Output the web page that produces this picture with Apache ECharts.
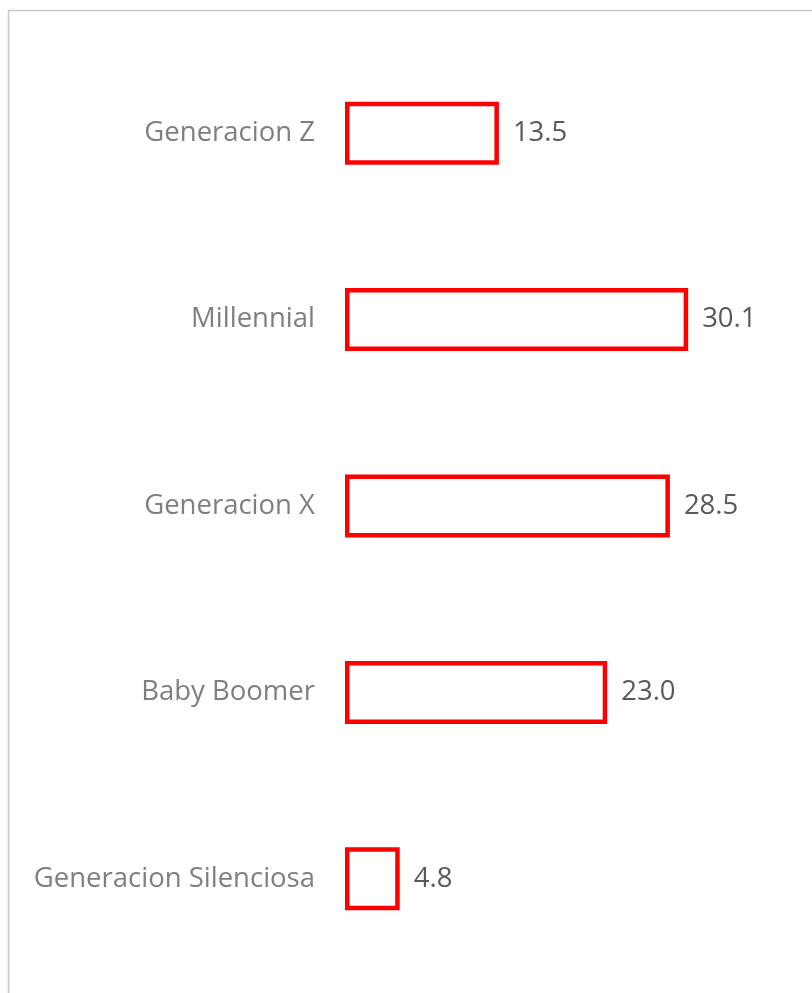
<!DOCTYPE html>
<html>
<head>
<meta charset="utf-8">
<script src="https://cdn.jsdelivr.net/npm/echarts@6/dist/echarts.min.js"></script>
<style>
  html, body { margin: 0; padding: 0; background: #fff; }
  #chart { width: 812px; height: 993px; }
</style>
</head>
<body>
<div id="chart"></div>
<script>
var categories = ['Generacion Z', 'Millennial', 'Generacion X', 'Baby Boomer', 'Generacion Silenciosa'];
var values = [13.5, 30.1, 28.5, 23.0, 4.8];

var chart = echarts.init(document.getElementById('chart'));
var option = {
  backgroundColor: '#fff',
  animation: false,
  graphic: [
    {
      type: 'rect',
      shape: { x: 8.5, y: 10.5, width: 900, height: 1100 },
      style: { fill: 'none', stroke: '#c8c8c8', lineWidth: 1.5 },
      silent: true
    }
  ],
  grid: {
    left: 345,
    right: 68,
    top: 40,
    bottom: 21
  },
  xAxis: {
    type: 'value',
    min: 0,
    max: 35,
    show: false
  },
  yAxis: {
    type: 'category',
    inverse: true,
    data: categories,
    axisLine: { show: false },
    axisTick: { show: false },
    splitLine: { show: false },
    axisLabel: {
      margin: 30,
      color: '#7f7f7f',
      fontFamily: 'Open Sans',
      fontSize: 27.5
    }
  },
  series: [
    {
      type: 'bar',
      data: values,
      barWidth: 63,
      itemStyle: {
        color: '#fff',
        borderColor: '#ff0000',
        borderWidth: 4.5
      },
      label: {
        show: true,
        position: 'right',
        distance: 14,
        color: '#595959',
        fontFamily: 'Open Sans',
        fontSize: 27.5,
        formatter: function (p) { return p.value.toFixed(1); }
      }
    }
  ]
};
chart.setOption(option);
</script>
</body>
</html>
